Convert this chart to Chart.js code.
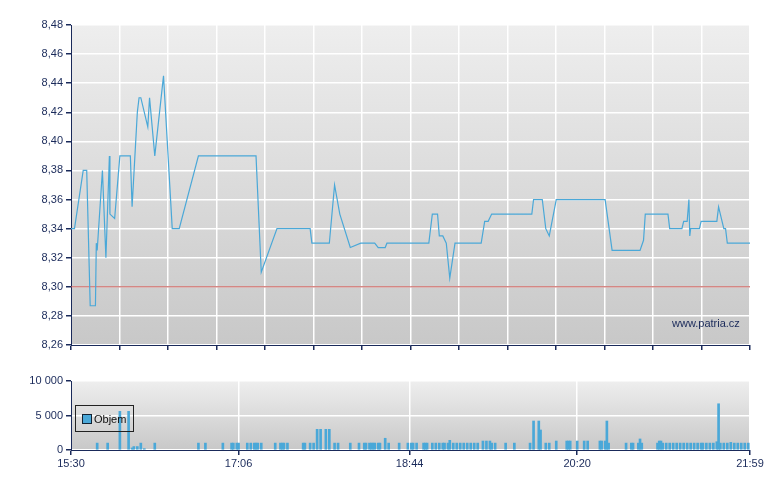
<!DOCTYPE html>
<html><head><meta charset="utf-8">
<script src="https://cdn.jsdelivr.net/npm/chart.js@4"></script>
<style>body{margin:0;background:#fff;width:780px;height:490px;position:relative;overflow:hidden;font-family:Arial,"Liberation Sans",sans-serif}
#c1w{position:absolute;left:0;top:0;width:780px;height:360px}
#c2w{position:absolute;left:0;top:360px;width:780px;height:130px}
#leg{position:absolute;left:75px;top:405px;width:59px;height:27px;border:1px solid #222;font-size:11px;color:#111;line-height:27px;box-sizing:border-box;padding-left:6px}
#leg span{display:inline-block;width:8px;height:8px;background:#4aa8d8;border:1px solid #123;margin-right:2px;vertical-align:-1px}
#wm{position:absolute;left:672px;top:317px;font-size:11px;color:#1a2a5a}
</style></head><body>
<div id="c1w"><canvas id="c1"></canvas></div>
<div id="c2w"><canvas id="c2"></canvas></div>
<div id="leg"><span></span>Objem</div>
<div id="wm">www.patria.cz</div>
<script>
const startMin = 15*60+30;
const priceMinutes=[0,1,2,7,9,11,14,14.5,15,18,20,22,22.3,25,28,34,35,38,39,40,44,45,48,53,58,62,73,106,109,118,137,138,148,151,154,160,166,174,176,180,181,205,207,210,211,213,215,217,220,235,237,239,241,264,265,270,272,274,278,306,310,326,328,329,342,343,350,351,353,354,354.5,355,360,361,370,371,372,374,375,376,389];
const priceValues=[8.34,8.34,8.34,8.38,8.38,8.287,8.287,8.33,8.325,8.38,8.32,8.39,8.35,8.347,8.39,8.39,8.355,8.42,8.43,8.43,8.41,8.43,8.39,8.445,8.34,8.34,8.39,8.39,8.31,8.34,8.34,8.33,8.33,8.37,8.35,8.327,8.33,8.33,8.327,8.327,8.33,8.33,8.35,8.35,8.335,8.335,8.33,8.306,8.33,8.33,8.345,8.345,8.35,8.35,8.36,8.36,8.34,8.335,8.36,8.36,8.325,8.325,8.332,8.35,8.35,8.34,8.34,8.345,8.345,8.36,8.335,8.34,8.34,8.345,8.345,8.355,8.35,8.34,8.34,8.33,8.33];
const refPrice=8.30;
const volMinutes=[15,21,28,33,35,36,38,40,42,48,73,77,87,92,93,95,96,101,103,105,106,107,109,117,120,121,122,124,133,134,137,139,141,143,146,148,151,153,160,165,168,169,171,172,173,174,176,177,180,182,188,193,195,196,198,202,203,204,207,209,211,213,214,216,217,219,221,223,225,227,229,231,233,236,238,240,241,243,249,254,263,265,268,269,272,274,278,284,285,286,290,294,296,303,304,306,307,308,318,321,322,325,326,327,336,337,338,339,341,343,345,347,349,351,353,355,357,359,361,362,364,366,368,370,371,372,374,376,378,380,382,384,386,388];
const volValues=[1000,1000,5600,5600,300,500,500,1000,200,1000,1000,1000,1000,1000,1000,1000,1000,1000,1000,1000,1000,1000,1000,1000,1000,1000,1000,1000,1000,1000,1000,1000,3000,3000,3000,3000,1000,1000,1000,1000,1000,1000,1000,1000,1000,1000,1000,1000,1700,1000,1000,1000,1000,1000,1000,1000,1000,1000,1000,1000,1000,1000,1000,1000,1400,1000,1000,1000,1000,1000,1000,1000,1000,1300,1300,1300,1000,1000,1000,1000,1000,4200,4200,2900,1000,1000,1300,1300,1300,1300,1300,1300,1300,1300,1300,1300,4200,1000,1000,1000,1000,1000,1600,1000,1000,1300,1300,1000,1000,1000,1000,1000,1000,1000,1000,1000,1000,1000,1000,1000,1000,1000,1000,1200,6700,1000,1000,1000,1100,1000,1000,1000,1000,1000,1000,1000];
const volTicks=[0,96,194,290,389];

const fmtT=m=>{const t=startMin+Math.round(m);return Math.floor(t/60)+':'+String(t%60).padStart(2,'0');};
const bg={id:'bg',beforeDraw(c){const a=c.chartArea,x=c.ctx;const g=x.createLinearGradient(0,a.top,0,a.bottom);g.addColorStop(0,'#eeeeee');g.addColorStop(1,'#c8c8c8');x.save();x.fillStyle=g;x.fillRect(a.left,a.top,a.right-a.left,a.bottom-a.top);x.restore();}};
const axisCol='#1a2a5a', tickFont={family:'Arial, Liberation Sans',size:11};
Chart.defaults.animation=false;
new Chart(document.getElementById('c1'),{type:'line',plugins:[bg],
data:{datasets:[
{data:priceMinutes.map((m,i)=>({x:m,y:priceValues[i]})),borderColor:'#4aa8d8',borderWidth:1.2,pointRadius:0,tension:0},
{data:[{x:0,y:refPrice},{x:389,y:refPrice}],borderColor:'#c0504d',borderWidth:1,pointRadius:0}]},
options:{responsive:true,maintainAspectRatio:false,layout:{padding:{top:25,right:30,bottom:10,left:0}},
plugins:{legend:{display:false},tooltip:{enabled:false}},
scales:{x:{type:'linear',min:0,max:389,afterBuildTicks:s=>{const t=[];for(let i=0;i<=14;i++)t.push({value:389*i/14});s.ticks=t;},afterFit:s=>{s.height=5;},
ticks:{display:false},grid:{color:'#ffffff',lineWidth:1.5,tickLength:5,tickColor:axisCol,drawOnChartArea:true},border:{color:axisCol}},
y:{min:8.26,max:8.48,afterFit:s=>{s.width=71;},ticks:{stepSize:0.02,font:tickFont,color:axisCol,callback:v=>v.toFixed(2).replace('.',',')},grid:{color:'#ffffff',lineWidth:1.5,tickLength:5,tickColor:axisCol},border:{color:axisCol}}}}});
new Chart(document.getElementById('c2'),{type:'bar',plugins:[bg],
data:{datasets:[{data:volMinutes.map((m,i)=>({x:m,y:volValues[i]})),backgroundColor:'#4aa8d8',barThickness:2}]},
options:{responsive:true,maintainAspectRatio:false,layout:{padding:{top:21,right:30,bottom:20,left:0}},
plugins:{legend:{display:false},tooltip:{enabled:false}},
scales:{x:{type:'linear',offset:false,min:0,max:389,afterBuildTicks:s=>{s.ticks=volTicks.map(v=>({value:v}));},afterFit:s=>{s.height=20;},
ticks:{font:tickFont,color:axisCol,maxRotation:0,autoSkip:false,callback:v=>fmtT(v),padding:2},grid:{offset:false,color:'#ffffff',lineWidth:1.5,tickLength:5,tickColor:axisCol},border:{color:axisCol}},
y:{min:0,max:10000,afterFit:s=>{s.width=71;},ticks:{stepSize:5000,font:tickFont,color:axisCol,callback:v=>String(v).replace(/\B(?=(\d{3})+(?!\d))/g,' ')},grid:{color:'#ffffff',lineWidth:1.5,tickLength:5,tickColor:axisCol},border:{color:axisCol}}}}});
</script></body></html>
